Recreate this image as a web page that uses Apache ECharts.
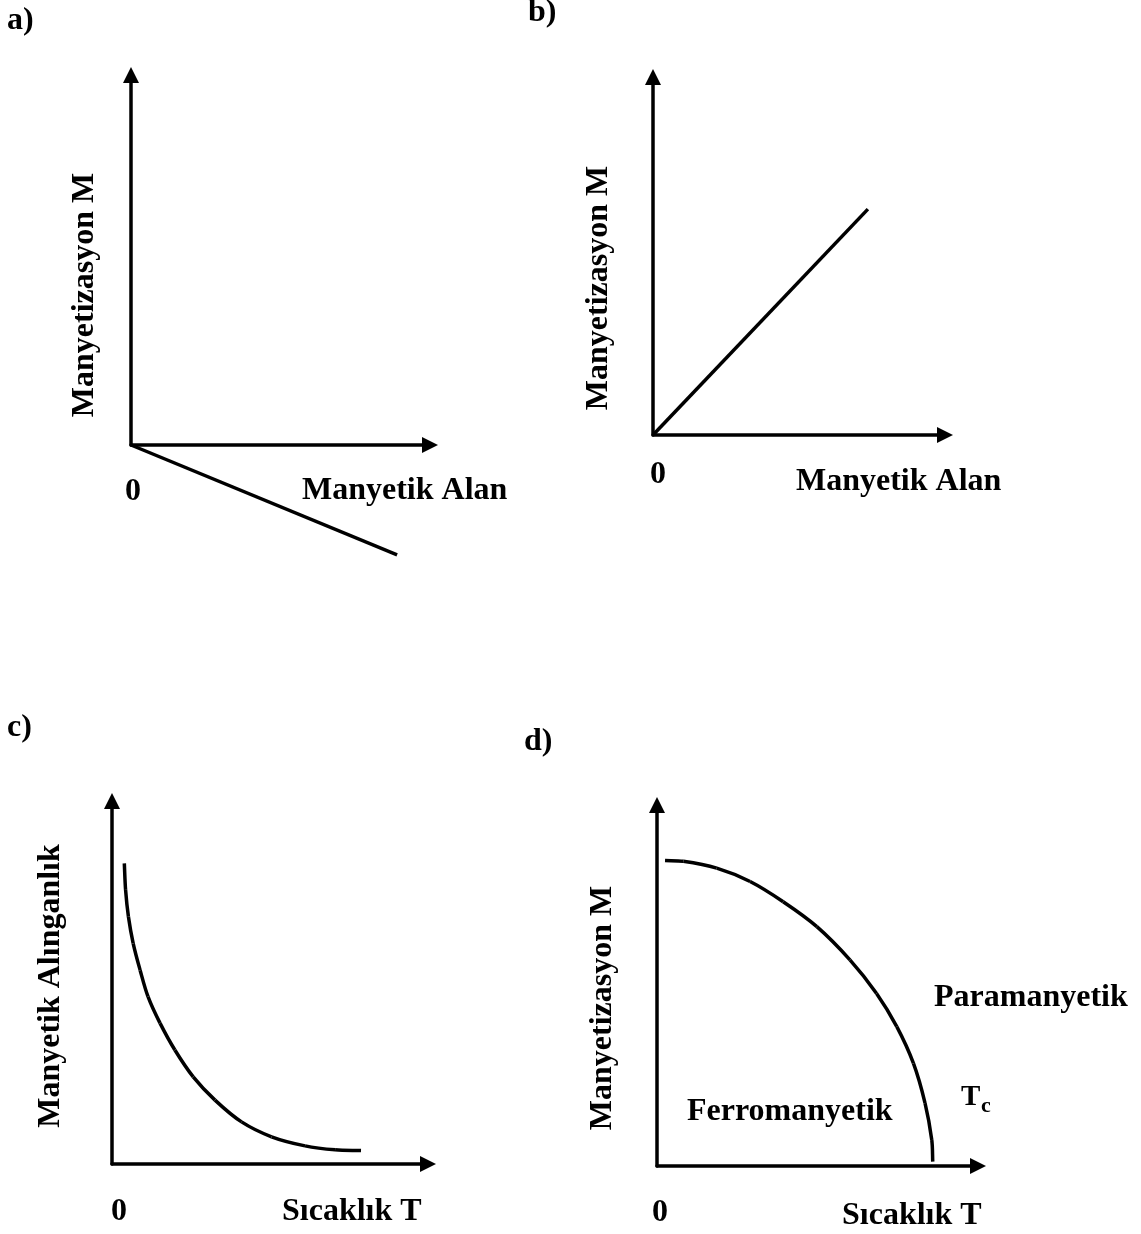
<!DOCTYPE html>
<html>
<head>
<meta charset="utf-8">
<script src="https://cdn.jsdelivr.net/npm/echarts@6/dist/echarts.min.js"></script>
<style>
html, body { margin: 0; padding: 0; background: #ffffff; }
#chart { width: 1141px; height: 1234px; }
</style>
</head>
<body>
<div id="chart"></div>
<script>
// ---- data (abstract units, axes run 0..10) ----
const axisMin = 0;
const axisMax = 10;
const panelNames = ['a)', 'b)', 'c)', 'd)'];
const yTitles = ['Manyetizasyon M', 'Manyetizasyon M', 'Manyetik Alınganlık', 'Manyetizasyon M'];
const xTitles = ['Manyetik Alan', 'Manyetik Alan', 'Sıcaklık T', 'Sıcaklık T'];
const originLabels = ['0', '0', '0', '0'];
const regionLabels = ['Paramanyetik', 'Ferromanyetik'];
const curieLabel = ['T', 'c'];

// a) diamagnetic: M vs H (negative slope)
const aX = [0, 8.9];
const aY = [0, -2.97];
// b) paramagnetic: M vs H (positive slope)
const bX = [0, 7.36];
const bY = [0, 6.31];
// c) susceptibility vs temperature
const cX = [0.39, 0.43, 0.52, 0.67, 0.89, 1.14, 1.52, 1.99, 2.57, 3.26, 4.10, 5.05, 6.11, 7.06, 7.88];
const cY = [8.28, 7.55, 6.81, 6.08, 5.34, 4.61, 3.88, 3.14, 2.40, 1.76, 1.16, 0.75, 0.50, 0.39, 0.37];
// d) magnetisation vs temperature
const dX = [0.25, 0.82, 1.86, 2.90, 3.93, 4.98, 6.01, 6.84, 7.47, 7.99, 8.35, 8.56, 8.59];
const dY = [8.46, 8.44, 8.25, 7.88, 7.32, 6.63, 5.71, 4.78, 3.86, 2.84, 1.74, 0.72, 0.12];

function pairs(xs, ys) { return xs.map((x, i) => [x, ys[i]]); }
const seriesData = [pairs(aX, aY), pairs(bX, bY), pairs(cX, cY), pairs(dX, dY)];

// ---- layout ----
const grids = [
  { left: 131, top: 75, width: 299, height: 370 },
  { left: 653, top: 77, width: 292, height: 358 },
  { left: 112, top: 801, width: 316, height: 363 },
  { left: 657, top: 805, width: 321, height: 361 }
];
const curved = [false, false, true, true];

const FONT = 'bold 32px "Liberation Serif", "Times New Roman", serif';
const LW = 3.5;
const axisLineStyle = { color: '#000', width: LW };

function axisCommon(gi) {
  return {
    type: 'value', gridIndex: gi, min: axisMin, max: axisMax,
    axisLine: { show: true, onZero: false, symbol: ['none', 'triangle'], symbolSize: [16, 16], lineStyle: axisLineStyle },
    axisTick: { show: false }, axisLabel: { show: false }, splitLine: { show: false }
  };
}

const xAxes = grids.map((g, i) => axisCommon(i));
const yAxes = grids.map((g, i) => axisCommon(i));

// smooth curve through the data points (chord-length tangents -> cubic bezier segments)
function smoothRender(idx) {
  return function (params, api) {
    if (params.dataIndex !== 0) return null;
    const pts = seriesData[idx].map(p => api.coord(p));
    const n = pts.length;
    const dist = (p, q) => Math.hypot(q[0] - p[0], q[1] - p[1]);
    const tangents = pts.map((p, i) => {
      const prev = pts[Math.max(0, i - 1)], next = pts[Math.min(n - 1, i + 1)];
      const L = dist(prev, next) || 1;
      return [(next[0] - prev[0]) / L, (next[1] - prev[1]) / L];
    });
    const children = [];
    for (let i = 0; i < n - 1; i++) {
      const p1 = pts[i], p2 = pts[i + 1];
      const d = dist(p1, p2) / 3;
      const t1 = tangents[i], t2 = tangents[i + 1];
      children.push({
        type: 'bezierCurve',
        shape: {
          x1: p1[0], y1: p1[1], x2: p2[0], y2: p2[1],
          cpx1: p1[0] + t1[0] * d, cpy1: p1[1] + t1[1] * d,
          cpx2: p2[0] - t2[0] * d, cpy2: p2[1] - t2[1] * d
        },
        style: { stroke: '#000', lineWidth: LW, fill: null, lineCap: 'butt' },
        silent: true
      });
    }
    return { type: 'group', children: children };
  };
}

const series = seriesData.map((d, i) => curved[i] ? ({
  type: 'custom', xAxisIndex: i, yAxisIndex: i, data: d,
  encode: { x: 0, y: 1 }, renderItem: smoothRender(i), silent: true
}) : ({
  type: 'line', xAxisIndex: i, yAxisIndex: i, data: d,
  showSymbol: false, symbol: 'none', clip: false,
  lineStyle: { color: '#000', width: LW, cap: 'butt' }, silent: true
}));

function txt(text, x, y, align, opts) {
  opts = opts || {};
  return {
    type: 'text', x: x, y: y, rotation: opts.rotation || 0, silent: true,
    style: {
      text: text, font: opts.font || FONT, fill: '#000',
      textAlign: align, textVerticalAlign: 'middle', align: align, verticalAlign: 'middle'
    }
  };
}

const panelPos = [[7, 21], [528, 13], [7, 728], [524, 742]];
const yTitlePos = [[85, 295], [599, 288], [51, 986], [603, 1008]];
const xTitlePos = [[302, 491], [796, 482], [282, 1212], [842, 1216]];
const originPos = [[133, 492], [658, 475], [119, 1212], [660, 1213]];

const graphics = [];
panelNames.forEach((t, i) => graphics.push(txt(t, panelPos[i][0], panelPos[i][1], 'left')));
yTitles.forEach((t, i) => graphics.push(txt(t, yTitlePos[i][0], yTitlePos[i][1], 'center', { rotation: Math.PI / 2 })));
xTitles.forEach((t, i) => graphics.push(txt(t, xTitlePos[i][0], xTitlePos[i][1], 'left')));
originLabels.forEach((t, i) => graphics.push(txt(t, originPos[i][0], originPos[i][1], 'center')));
graphics.push(txt(regionLabels[0], 934, 998, 'left'));
graphics.push(txt(regionLabels[1], 687, 1112, 'left'));
graphics.push(txt(curieLabel[0], 961, 1098, 'left', { font: 'bold 29px "Liberation Serif", "Times New Roman", serif' }));
graphics.push(txt(curieLabel[1], 981, 1106, 'left', { font: 'bold 22px "Liberation Serif", "Times New Roman", serif' }));

const chart = echarts.init(document.getElementById('chart'), null, { renderer: 'canvas' });
chart.setOption({
  backgroundColor: '#ffffff',
  animation: false,
  grid: grids.map(g => Object.assign({ containLabel: false, show: false }, g)),
  xAxis: xAxes,
  yAxis: yAxes,
  series: series,
  graphic: { elements: graphics }
});
</script>
</body>
</html>
